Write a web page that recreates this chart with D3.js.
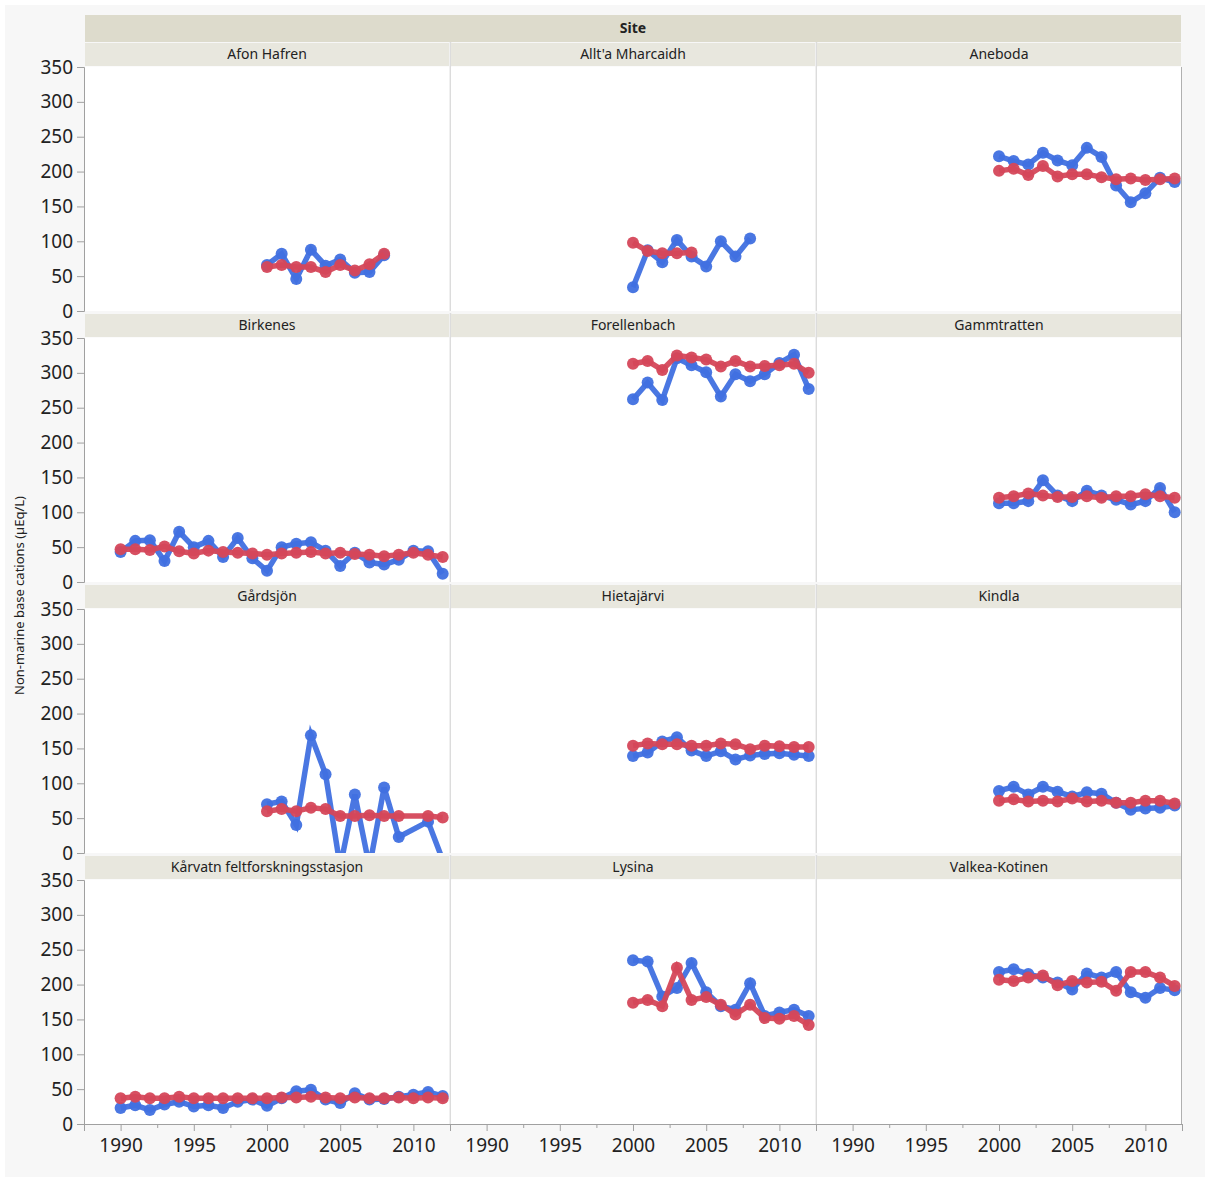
<!DOCTYPE html>
<html><head><meta charset="utf-8">
<script src="https://cdn.jsdelivr.net/npm/d3@7"></script>
<style>
body{margin:0;background:#fff;}
text{font-family:"Noto Sans","Open Sans",sans-serif;fill:#222;}
</style></head>
<body><svg id="chart" width="1211" height="1178"></svg>
<script>
// ---------------- DATA ----------------
const sites = ["Afon Hafren","Allt'a Mharcaidh","Aneboda","Birkenes","Forellenbach","Gammtratten",
  "Gårdsjön","Hietajärvi","Kindla","Kårvatn feltforskningsstasjon","Lysina","Valkea-Kotinen"];
const yearTicks = [1990,1995,2000,2005,2010];
const yearMinorTicks = [1987.5,1992.5,1997.5,2002.5,2007.5,2012.5];
const valueTicks = [0,50,100,150,200,250,300,350];

const years2000to2008 = [2000,2001,2002,2003,2004,2005,2006,2007,2008];
const years2000to2004 = [2000,2001,2002,2003,2004];
const years2000to2012 = [2000,2001,2002,2003,2004,2005,2006,2007,2008,2009,2010,2011,2012];
const years1990to2012 = [1990,1991,1992,1993,1994,1995,1996,1997,1998,1999,2000,2001,2002,2003,2004,2005,2006,2007,2008,2009,2010,2011,2012];
const yearsGardsjon = [2000,2001,2002,2003,2004,2005,2006,2007,2008,2009,2011,2012];

// blue series
const afonHafrenBlue   = [66,82,46,88,65,74,55,56,80];
const alltaBlue        = [34,87,70,102,78,64,100,78,104];
const anebodaBlue      = [222,215,210,227,216,209,234,221,180,156,169,191,185];
const birkenesBlue     = [43,59,60,30,72,50,59,36,63,34,16,50,55,57,45,23,42,28,25,32,45,44,12];
const forellenbachBlue = [262,286,261,321,311,301,266,298,288,298,314,326,277];
const gammtrattenBlue  = [113,113,116,146,124,116,131,124,118,111,116,135,100];
const gardsjonBlue     = [70,74,40,169,113,-20,84,-20,94,23,45,-10];
const hietajarviBlue   = [139,144,160,166,147,139,146,134,140,142,143,141,139];
const kindlaBlue       = [89,95,84,95,88,81,87,85,72,62,64,65,68];
const karvatnBlue      = [23,27,20,28,32,25,27,23,32,35,26,37,47,49,35,30,44,35,36,39,42,46,40];
const lysinaBlue       = [235,233,183,195,231,189,169,164,202,155,160,164,155];
const valkeaBlue       = [218,222,215,210,203,193,216,210,218,189,181,195,192];

// red series
const afonHafrenRed   = [63,66,63,63,56,66,58,67,82];
const alltaRed        = [98,86,83,83,84];
const anebodaRed      = [201,204,195,208,193,196,196,192,189,190,188,189,190];
const birkenesRed     = [47,47,46,51,44,41,45,43,42,41,39,41,42,43,41,42,40,39,37,39,42,39,36];
const forellenbachRed = [313,317,304,325,322,319,309,317,309,310,311,313,300];
const gammtrattenRed  = [121,123,127,124,122,122,123,121,123,123,126,123,121];
const gardsjonRed     = [60,63,60,65,63,53,53,54,53,53,53,51];
const hietajarviRed   = [154,157,156,156,154,154,157,156,149,154,153,152,152];
const kindlaRed       = [75,77,74,75,74,78,74,75,72,72,75,75,71];
const karvatnRed      = [37,39,37,37,39,37,37,37,37,37,37,38,38,39,38,37,38,37,37,38,37,38,37];
const lysinaRed       = [174,178,169,224,178,182,171,157,171,152,151,155,142];
const valkeaRed       = [207,205,210,213,199,205,203,204,191,218,218,210,198];

const panels = [
  {blueYears:years2000to2008, blue:afonHafrenBlue, redYears:years2000to2008, red:afonHafrenRed},
  {blueYears:years2000to2008, blue:alltaBlue, redYears:years2000to2004, red:alltaRed},
  {blueYears:years2000to2012, blue:anebodaBlue, redYears:years2000to2012, red:anebodaRed},
  {blueYears:years1990to2012, blue:birkenesBlue, redYears:years1990to2012, red:birkenesRed},
  {blueYears:years2000to2012, blue:forellenbachBlue, redYears:years2000to2012, red:forellenbachRed},
  {blueYears:years2000to2012, blue:gammtrattenBlue, redYears:years2000to2012, red:gammtrattenRed},
  {blueYears:yearsGardsjon, blue:gardsjonBlue, redYears:yearsGardsjon, red:gardsjonRed},
  {blueYears:years2000to2012, blue:hietajarviBlue, redYears:years2000to2012, red:hietajarviRed},
  {blueYears:years2000to2012, blue:kindlaBlue, redYears:years2000to2012, red:kindlaRed},
  {blueYears:years1990to2012, blue:karvatnBlue, redYears:years1990to2012, red:karvatnRed},
  {blueYears:years2000to2012, blue:lysinaBlue, redYears:years2000to2012, red:lysinaRed},
  {blueYears:years2000to2012, blue:valkeaBlue, redYears:years2000to2012, red:valkeaRed}
];

// ---------------- LAYOUT ----------------
const svg = d3.select("#chart");
const BLUE = "#4070e0", RED = "#d5475a";
const left0 = 84, colW = 366, rowH = 271, plotTop0 = 67, plotBot0 = 311, stripTop0 = 42;
const nCols = 3, nRows = 4;
const rightEdge = left0 + nCols*colW;

svg.append("rect").attr("x",5).attr("y",5).attr("width",1200).attr("height",1172).attr("fill","#f7f7f7");
// Site header
svg.append("rect").attr("x",left0+1).attr("y",15).attr("width",rightEdge-left0-2).attr("height",27).attr("fill","#dddbcc");
svg.append("text").attr("x",(left0+rightEdge)/2).attr("y",33).attr("text-anchor","middle")
  .style("font-size","14px").style("font-weight","bold").text("Site");

const defs = svg.append("defs");

panels.forEach((p,i)=>{
  const c = i % nCols, r = Math.floor(i / nCols);
  const x0 = left0 + c*colW, x1 = x0 + colW;
  const yTop = plotTop0 + r*rowH, yBot = plotBot0 + r*rowH;
  const sTop = stripTop0 + r*rowH;
  const x = d3.scaleLinear().domain([1987.5,2012.5]).range([x0,x1]);
  const y = d3.scaleLinear().domain([0,350]).range([yBot,yTop]);

  // strip
  svg.append("rect").attr("x",x0+1).attr("y",sTop+1).attr("width",colW-2).attr("height",yTop-sTop-2).attr("fill","#e8e7de");
  svg.append("text").attr("x",(x0+x1)/2).attr("y",sTop+17).attr("text-anchor","middle")
    .style("font-size","14px").text(sites[i]);
  // plot area
  svg.append("rect").attr("x",x0+1).attr("y",yTop-0.5).attr("width",colW-2).attr("height",yBot-yTop+0.5).attr("fill","#fff");
  if (c < nCols-1) {
    svg.append("line").attr("x1",x1+0.5).attr("x2",x1+0.5).attr("y1",sTop).attr("y2",yBot)
      .attr("stroke","#dcdcdc").attr("stroke-width",1.5);
  }
  const cid = "clip"+i;
  defs.append("clipPath").attr("id",cid).append("rect").attr("x",x0+1).attr("y",yTop-1).attr("width",colW-1).attr("height",yBot-yTop+1);
  const g = svg.append("g").attr("clip-path",`url(#${cid})`);

  const drawSeries = (yrs, vals, col) => {
    const pts = yrs.map((yr,k)=>[yr, vals[k]]);
    g.append("path").datum(pts)
      .attr("d", d3.line().x(d=>x(d[0])).y(d=>y(d[1])))
      .attr("fill","none").attr("stroke",col).attr("stroke-width",5.5).attr("stroke-opacity",0.95);
    g.selectAll(null).data(pts).enter().append("circle")
      .attr("cx",d=>x(d[0])).attr("cy",d=>y(d[1])).attr("r",6).attr("fill",col).attr("fill-opacity",0.95);
  };
  drawSeries(p.blueYears, p.blue, BLUE);
  drawSeries(p.redYears, p.red, RED);

  // y axis on first column
  if (c === 0) {
    const ax = svg.append("g").attr("transform",`translate(${x0},0)`)
      .call(d3.axisLeft(y).tickValues(valueTicks).tickSize(7).tickPadding(4));
    ax.select(".domain").attr("stroke","#a0a0a0");
    ax.selectAll(".tick line").attr("stroke","#a0a0a0");
    ax.selectAll(".tick text").style("font-size","19px").style("font-family","'Noto Sans',sans-serif").attr("fill","#222");
  }
  // x axis on last row
  if (r === nRows-1) {
    const ax = svg.append("g").attr("transform",`translate(0,${yBot})`)
      .call(d3.axisBottom(x).tickValues(yearTicks).tickSize(7).tickPadding(8).tickFormat(d3.format("d")));
    ax.select(".domain").attr("stroke","#a0a0a0");
    ax.selectAll(".tick line").attr("stroke","#a0a0a0");
    ax.selectAll(".tick text").style("font-size","19px").style("font-family","'Noto Sans',sans-serif").attr("fill","#222");
    const mn = svg.append("g").attr("transform",`translate(0,${yBot})`)
      .call(d3.axisBottom(x).tickValues(yearMinorTicks).tickSize(4).tickFormat(""));
    mn.select(".domain").remove();
    mn.selectAll(".tick line").attr("stroke","#a0a0a0");
  }
});
// right border
svg.append("line").attr("x1",rightEdge-0.5).attr("x2",rightEdge-0.5).attr("y1",plotTop0).attr("y2",plotBot0+(nRows-1)*rowH)
  .attr("stroke","#b0b0b0");

// y title
svg.append("text").attr("transform",`translate(24,${(plotTop0+plotBot0+(nRows-1)*rowH)/2}) rotate(-90)`)
  .attr("text-anchor","middle").style("font-size","13px").text("Non-marine base cations (µEq/L)");
</script></body></html>
